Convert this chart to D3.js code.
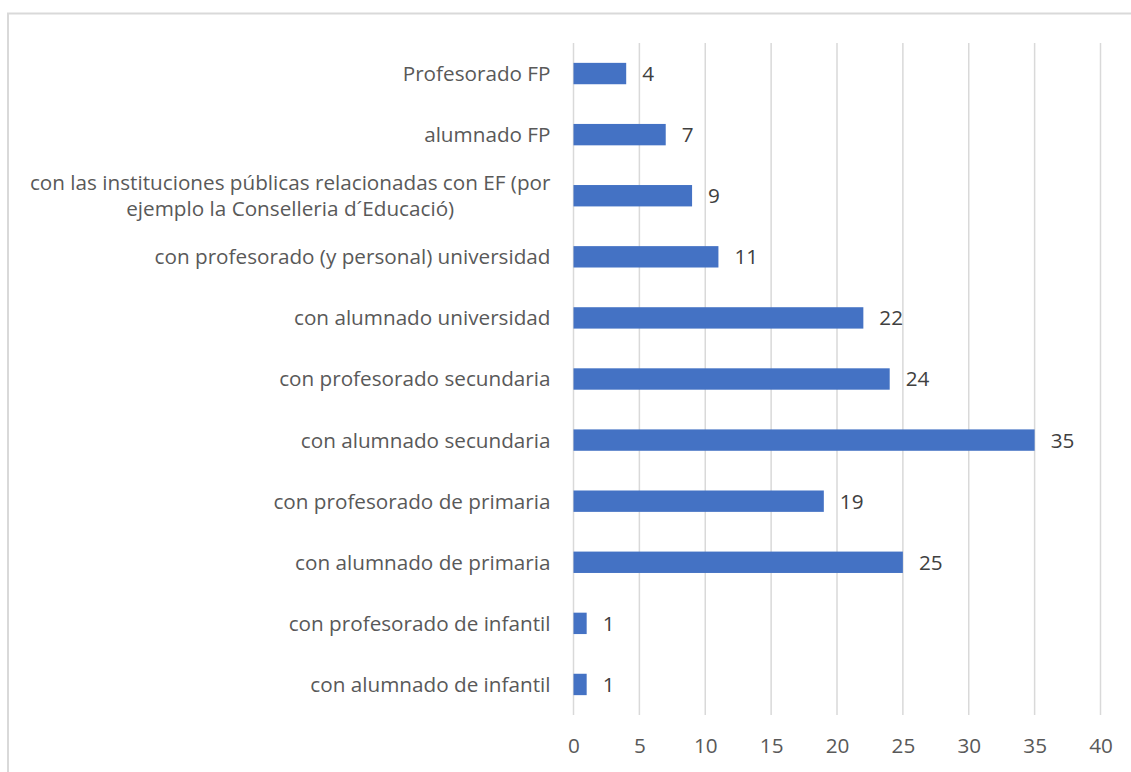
<!DOCTYPE html>
<html>
<head>
<meta charset="utf-8">
<script src="https://cdn.jsdelivr.net/npm/d3@7"></script>
<style>
  body { margin: 0; background: #fff; }
  text { font-family: "Open Sans", "Noto Sans", sans-serif; }
</style>
</head>
<body>
<div id="chart"></div>
<script>
// data (top to bottom)
var categories = [
  "Profesorado FP",
  "alumnado FP",
  "con las instituciones públicas relacionadas con EF (por|ejemplo la Conselleria d´Educació)",
  "con profesorado (y personal) universidad",
  "con alumnado universidad",
  "con profesorado secundaria",
  "con alumnado secundaria",
  "con profesorado de primaria",
  "con alumnado de primaria",
  "con profesorado de infantil",
  "con alumnado de infantil"
];
var values = [4, 7, 9, 11, 22, 24, 35, 19, 25, 1, 1];
var xTicks = [0, 5, 10, 15, 20, 25, 30, 35, 40];

var width = 1131;
var height = 772;
var margin = {top: 43, left: 573.5, right: 30.5, bottom: 57};
var fontSize = 20.7;

var svg = d3.select('#chart')
  .append('svg')
  .attr('width', width)
  .attr('height', height);

// chart border
svg.append('rect')
  .attr('x', 8)
  .attr('y', 13.5)
  .attr('width', 1200)
  .attr('height', 900)
  .attr('fill', 'none')
  .attr('stroke', '#d9d9d9')
  .attr('stroke-width', 2);

var x = d3.scaleLinear()
  .domain([0, 40])
  .range([margin.left, width - margin.right]);

var y = d3.scaleBand()
  .domain(categories)
  .range([margin.top, height - margin.bottom])
  .paddingInner(0.65)
  .paddingOuter(0.325);

// gridlines
svg.append('g')
  .selectAll('line')
  .data(xTicks)
  .enter()
  .append('line')
  .attr('x1', function(d) { return x(d); })
  .attr('x2', function(d) { return x(d); })
  .attr('y1', margin.top)
  .attr('y2', height - margin.bottom)
  .attr('stroke', '#d9d9d9')
  .attr('stroke-width', 1.5);

// x axis labels
var xAxis = d3.axisBottom(x).tickValues(xTicks).tickSize(0).tickPadding(0);
var gx = svg.append('g')
  .attr('transform', 'translate(0,' + (height - margin.bottom + 23.5) + ')')
  .call(xAxis);
gx.select('.domain').remove();
gx.selectAll('text')
  .attr('font-size', fontSize)
  .attr('fill', '#595959')
  .style('font-family', '"Open Sans", "Noto Sans", sans-serif');

// bars
svg.append('g')
  .selectAll('rect')
  .data(values)
  .enter()
  .append('rect')
  .attr('x', x(0))
  .attr('y', function(d, i) { return y(categories[i]); })
  .attr('width', function(d) { return x(d) - x(0); })
  .attr('height', y.bandwidth())
  .attr('fill', '#4472c4');

// value labels
svg.append('g')
  .selectAll('text')
  .data(values)
  .enter()
  .append('text')
  .attr('x', function(d) { return x(d) + 16; })
  .attr('y', function(d, i) { return y(categories[i]) + y.bandwidth() / 2; })
  .attr('dy', '0.36em')
  .attr('font-size', fontSize)
  .attr('fill', '#404040')
  .text(function(d) { return d; });

// category labels (right aligned, multi-line centred)
var labelRight = x(0) - 23;
categories.forEach(function(c, i) {
  var lines = c.split('|');
  var cy = y(c) + y.bandwidth() / 2;
  var g = svg.append('g');
  var texts = lines.map(function(l, j) {
    return g.append('text')
      .attr('y', cy + (j - (lines.length - 1) / 2) * 26.5)
      .attr('dy', '0.36em')
      .attr('font-size', fontSize)
      .attr('fill', '#595959')
      .attr('text-anchor', 'middle')
      .text(l);
  });
  var maxW = d3.max(texts, function(t) { return t.node().getComputedTextLength(); });
  texts.forEach(function(t) { t.attr('x', labelRight - maxW / 2); });
});
</script>
</body>
</html>
